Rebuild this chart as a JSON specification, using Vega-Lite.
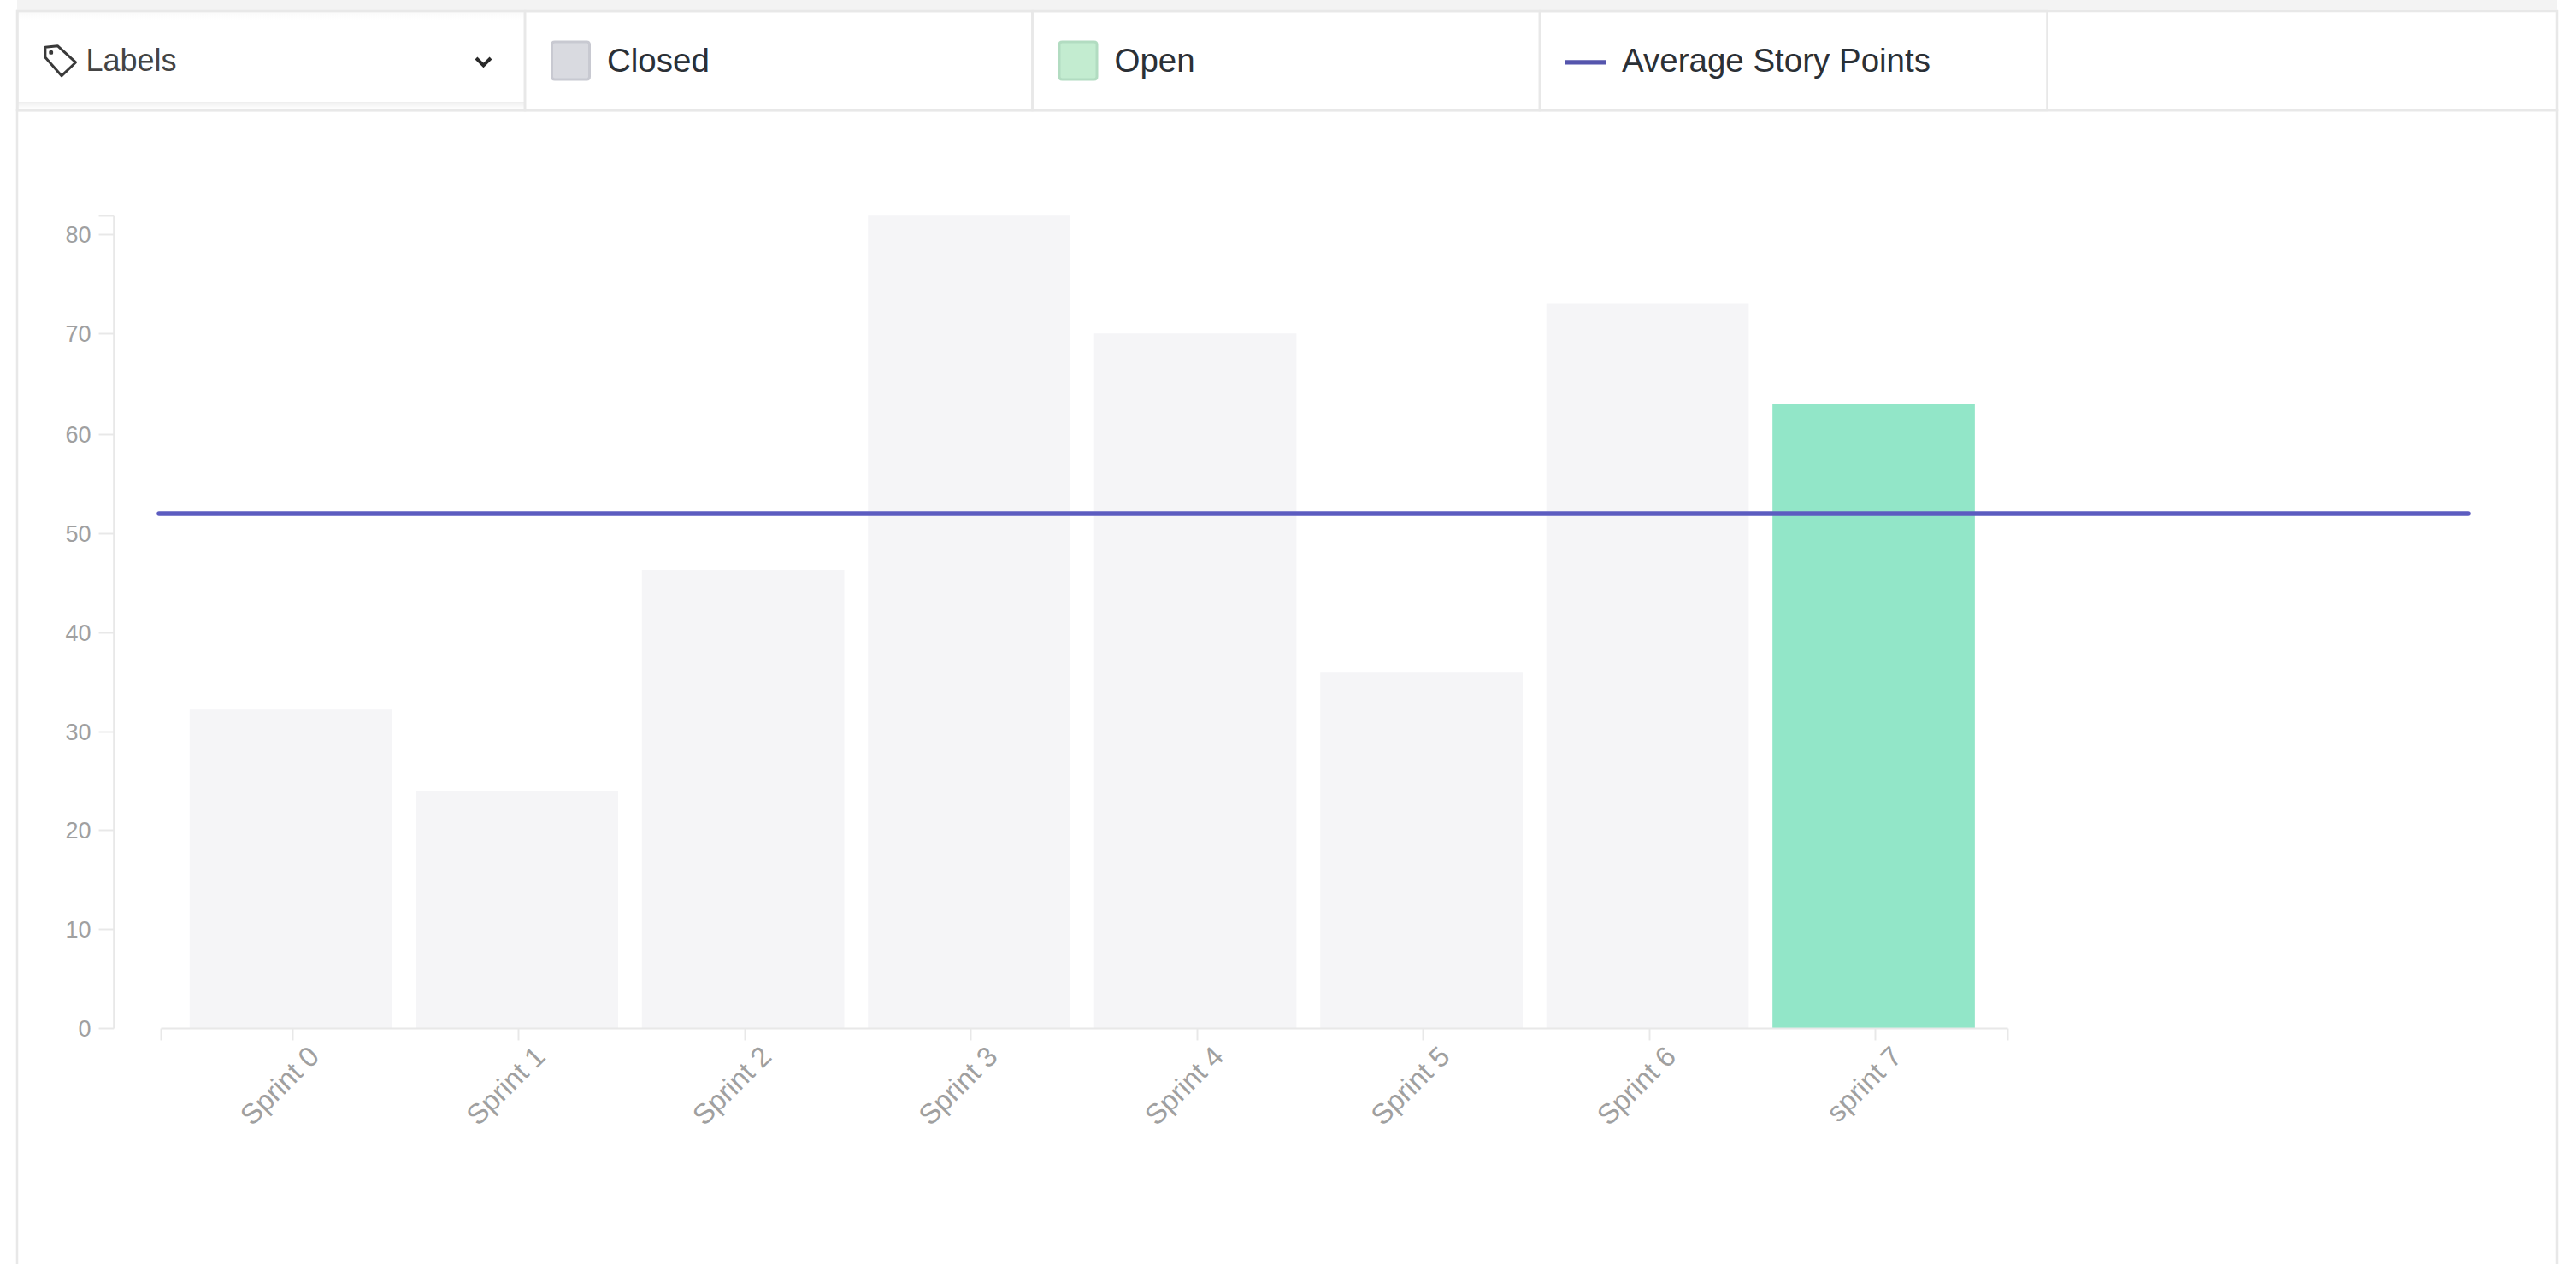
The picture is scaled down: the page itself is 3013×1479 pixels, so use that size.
{
"$schema":"https://vega.github.io/schema/vega-lite/v6.json",
"width":3013,"height":1479,"padding":0,"autosize":{"type":"none"},"background":"#ffffff",
"config":{"view":{"stroke":null},"font":"Liberation Sans"},
"datasets":{
"sprints":[
{"sprint":"Sprint 0","points":32.2,"state":"Closed","average":52},
{"sprint":"Sprint 1","points":24,"state":"Closed","average":52},
{"sprint":"Sprint 2","points":46.3,"state":"Closed","average":52},
{"sprint":"Sprint 3","points":82,"state":"Closed","average":52},
{"sprint":"Sprint 4","points":70,"state":"Closed","average":52},
{"sprint":"Sprint 5","points":36,"state":"Closed","average":52},
{"sprint":"Sprint 6","points":73,"state":"Closed","average":52},
{"sprint":"sprint 7","points":63,"state":"Open","average":52}],
"cells":[{"label":"Labels"},{"label":"Closed"},{"label":"Open"},{"label":"Average Story Points"}],
"frame":[{"part":"frame"}],
"ends":[{"end":"start"},{"end":"stop"}]
},
"resolve":{"scale":{"x":"independent","y":"independent","fill":"independent","color":"independent","shape":"independent","stroke":"independent"},"axis":{"x":"independent","y":"independent"}},
"layer":[
{"data":{"name":"frame"},"mark":{"type":"rect","fill":"#ffffff","stroke":"#e8e8e8","strokeWidth":2.5},
 "encoding":{"x":{"field":"part","type":"nominal","axis":null,"scale":{"type":"band","domain":["frame"],"range":[20,2991],"paddingInner":0,"paddingOuter":0}},
 "y":{"field":"part","type":"nominal","axis":null,"scale":{"type":"band","domain":["frame"],"range":[129,1500],"paddingInner":0,"paddingOuter":0}}}},
{"data":{"name":"frame"},"mark":{"type":"rect","fill":"#ffffff","stroke":"#e8e8e8","strokeWidth":2.5},
 "encoding":{"x":{"field":"part","type":"nominal","axis":null,"scale":{"type":"band","domain":["frame"],"range":[20,2991],"paddingInner":0,"paddingOuter":0}},
 "y":{"field":"part","type":"nominal","axis":null,"scale":{"type":"band","domain":["frame"],"range":[13,129],"paddingInner":0,"paddingOuter":0}}}},
{"data":{"name":"frame"},"mark":{"type":"rect","fill":"#f3f3f3"},
 "encoding":{"x":{"field":"part","type":"nominal","axis":null,"scale":{"type":"band","domain":["frame"],"range":[20,2991],"paddingInner":0,"paddingOuter":0}},
 "y":{"field":"part","type":"nominal","axis":null,"scale":{"type":"band","domain":["frame"],"range":[0,12],"paddingInner":0,"paddingOuter":0}}}},
{"data":{"name":"frame"},"mark":{"type":"rect","fill":{"x1":0,"y1":0,"x2":0,"y2":1,"gradient":"linear","stops":[{"offset":0,"color":"#eeeeee"},{"offset":1,"color":"#ffffff"}]}},
 "encoding":{"x":{"field":"part","type":"nominal","axis":null,"scale":{"type":"band","domain":["frame"],"range":[21,614],"paddingInner":0,"paddingOuter":0}},
 "y":{"field":"part","type":"nominal","axis":null,"scale":{"type":"band","domain":["frame"],"range":[119,127.5],"paddingInner":0,"paddingOuter":0}}}},
{"data":{"name":"frame"},"mark":{"type":"rect","fill":{"x1":0,"y1":0,"x2":0,"y2":1,"gradient":"linear","stops":[{"offset":0,"color":"#fbfbfb"},{"offset":1,"color":"#ffffff"}]}},
 "encoding":{"x":{"field":"part","type":"nominal","axis":null,"scale":{"type":"band","domain":["frame"],"range":[21,614],"paddingInner":0,"paddingOuter":0}},
 "y":{"field":"part","type":"nominal","axis":null,"scale":{"type":"band","domain":["frame"],"range":[15,23],"paddingInner":0,"paddingOuter":0}}}},
{"data":{"name":"cells"},
 "encoding":{"x":{"field":"label","type":"nominal","axis":null,"sort":null,"scale":{"type":"band","domain":["Labels","Closed","Open","Average Story Points"," "],"range":[20.5,2988],"paddingInner":0,"paddingOuter":0}},
 "y":{"datum":"head","type":"nominal","axis":null,"scale":{"type":"band","domain":["head"],"range":[13,129],"paddingInner":0,"paddingOuter":0}}},
 "layer":[
 {"mark":{"type":"rect","fill":null,"stroke":"#e8e8e8","strokeWidth":2.5}},
 {"transform":[{"filter":"datum.label==='Closed'||datum.label==='Open'||datum.label==='Average Story Points'"}],
  "mark":{"type":"point","filled":true,"opacity":1,"size":1936,"xOffset":53.5,"strokeWidth":3},
  "encoding":{"x":{"field":"label","type":"nominal","bandPosition":0,"axis":null},
   "shape":{"field":"label","type":"nominal","legend":null,"scale":{"domain":["Closed","Open","Average Story Points"],"range":["M-0.85,-1 H0.85 Q1,-1 1,-0.85 V0.85 Q1,1 0.85,1 H-0.85 Q-1,1 -1,0.85 V-0.85 Q-1,-1 -0.85,-1 Z","M-0.85,-1 H0.85 Q1,-1 1,-0.85 V0.85 Q1,1 0.85,1 H-0.85 Q-1,1 -1,0.85 V-0.85 Q-1,-1 -0.85,-1 Z","M-1,0.03 H1 V0.14 H-1 Z"]}},
   "fill":{"field":"label","type":"nominal","legend":null,"scale":{"domain":["Closed","Open","Average Story Points"],"range":["#d9dae0","#c3ecd0","#5555ad"]}},
   "stroke":{"field":"label","type":"nominal","legend":null,"scale":{"domain":["Closed","Open","Average Story Points"],"range":["#c8c9d1","#b2dcc1","#5555ad"]}}}},
 {"transform":[{"filter":"datum.label==='Closed'||datum.label==='Open'||datum.label==='Average Story Points'"}],
  "mark":{"type":"text","align":"left","baseline":"middle","dx":96,"dy":1,"fontSize":38.5,"color":"#2b3036"},
  "encoding":{"x":{"field":"label","type":"nominal","bandPosition":0,"axis":null},"text":{"field":"label"}}},
 {"transform":[{"filter":"datum.label==='Labels'"}],
  "mark":{"type":"text","align":"left","baseline":"middle","dx":80,"dy":1,"fontSize":36,"color":"#444444"},
  "encoding":{"x":{"field":"label","type":"nominal","bandPosition":0,"axis":null},"text":{"field":"label"}}},
 {"transform":[{"filter":"datum.label==='Labels'"}],
  "mark":{"type":"point","shape":"M-0.98,-0.87 L-0.18,-0.96 L1,0.11 L0.09,0.98 L-0.98,-0.22 Z M-0.65,-0.59 L-0.55,-0.59 L-0.55,-0.49 L-0.65,-0.49 Z","filled":false,"opacity":1,"size":1296,"xOffset":50,"stroke":"#3a3a3a","strokeWidth":3,"strokeJoin":"round"},
  "encoding":{"x":{"field":"label","type":"nominal","bandPosition":0,"axis":null}}},
 {"transform":[{"filter":"datum.label==='Labels'"}],
  "mark":{"type":"point","shape":"M-0.85,-0.3 L0,0.55 L0.85,-0.3","filled":false,"opacity":1,"size":400,"xOffset":545,"stroke":"#2a2a2a","strokeWidth":4},
  "encoding":{"x":{"field":"label","type":"nominal","bandPosition":0,"axis":null}}}
 ]},
{"data":{"name":"sprints"},"mark":{"type":"bar"},
 "encoding":{
 "x":{"field":"sprint","type":"nominal","sort":null,"title":null,
  "scale":{"type":"band","range":[188,2348],"paddingInner":0.105,"paddingOuter":0.136,"align":0.47},
  "axis":{"orient":"bottom","offset":-276,"zindex":1,"domainColor":"#e8e8e8","domainWidth":2,"tickColor":"#e8e8e8","tickWidth":2,"tickSize":14,"tickOffset":1.5,"labelAngle":-45,"labelAlign":"right","labelBaseline":"middle","labelFontSize":33,"labelColor":"#a0a0a0","labelPadding":13.6,"labelOffset":26,"labelFont":"Liberation Sans","labelOverlap":false}},
 "y":{"field":"points","type":"quantitative","title":null,
  "scale":{"domain":[0,60,70,80,82],"range":[1203,508.3,390.3,274.3,252.3],"nice":false,"zero":false},
  "axis":{"orient":"left","offset":-132.7,"zindex":1,"values":[0,10,20,30,40,50,60,70,80,82],"labelExpr":"datum.value===82?'':datum.label","grid":false,"domainColor":"#e8e8e8","domainWidth":2,"tickColor":"#e8e8e8","tickWidth":2,"tickSize":17.7,"labelFontSize":27,"labelColor":"#a0a0a0","labelPadding":9,"labelOffset":1.5,"labelFont":"Liberation Sans"}},
 "color":{"field":"state","type":"nominal","legend":null,"scale":{"domain":["Closed","Open"],"range":["#f5f5f7","#92e6c8"]}}}},
{"data":{"name":"ends"},"mark":{"type":"point","opacity":0},
 "encoding":{"x":{"field":"end","type":"nominal","sort":null,"title":null,
  "scale":{"type":"point","domain":["start","stop"],"range":[188,2348],"padding":0},
  "axis":{"orient":"bottom","offset":-276,"zindex":1,"domain":false,"labels":false,"tickColor":"#e8e8e8","tickWidth":2,"tickSize":14}}}},
{"data":{"name":"sprints"},"mark":{"type":"line","stroke":"#5c5cc0","strokeWidth":5.5,"strokeCap":"round"},
 "encoding":{
 "x":{"field":"sprint","type":"nominal","sort":null,"axis":null,"scale":{"type":"point","range":[186,2887],"padding":0}},
 "y":{"field":"average","type":"quantitative","axis":null,"scale":{"domain":[0,60,70,80,82],"range":[1203,508.3,390.3,274.3,252.3],"nice":false,"zero":false}}}}
]
}
